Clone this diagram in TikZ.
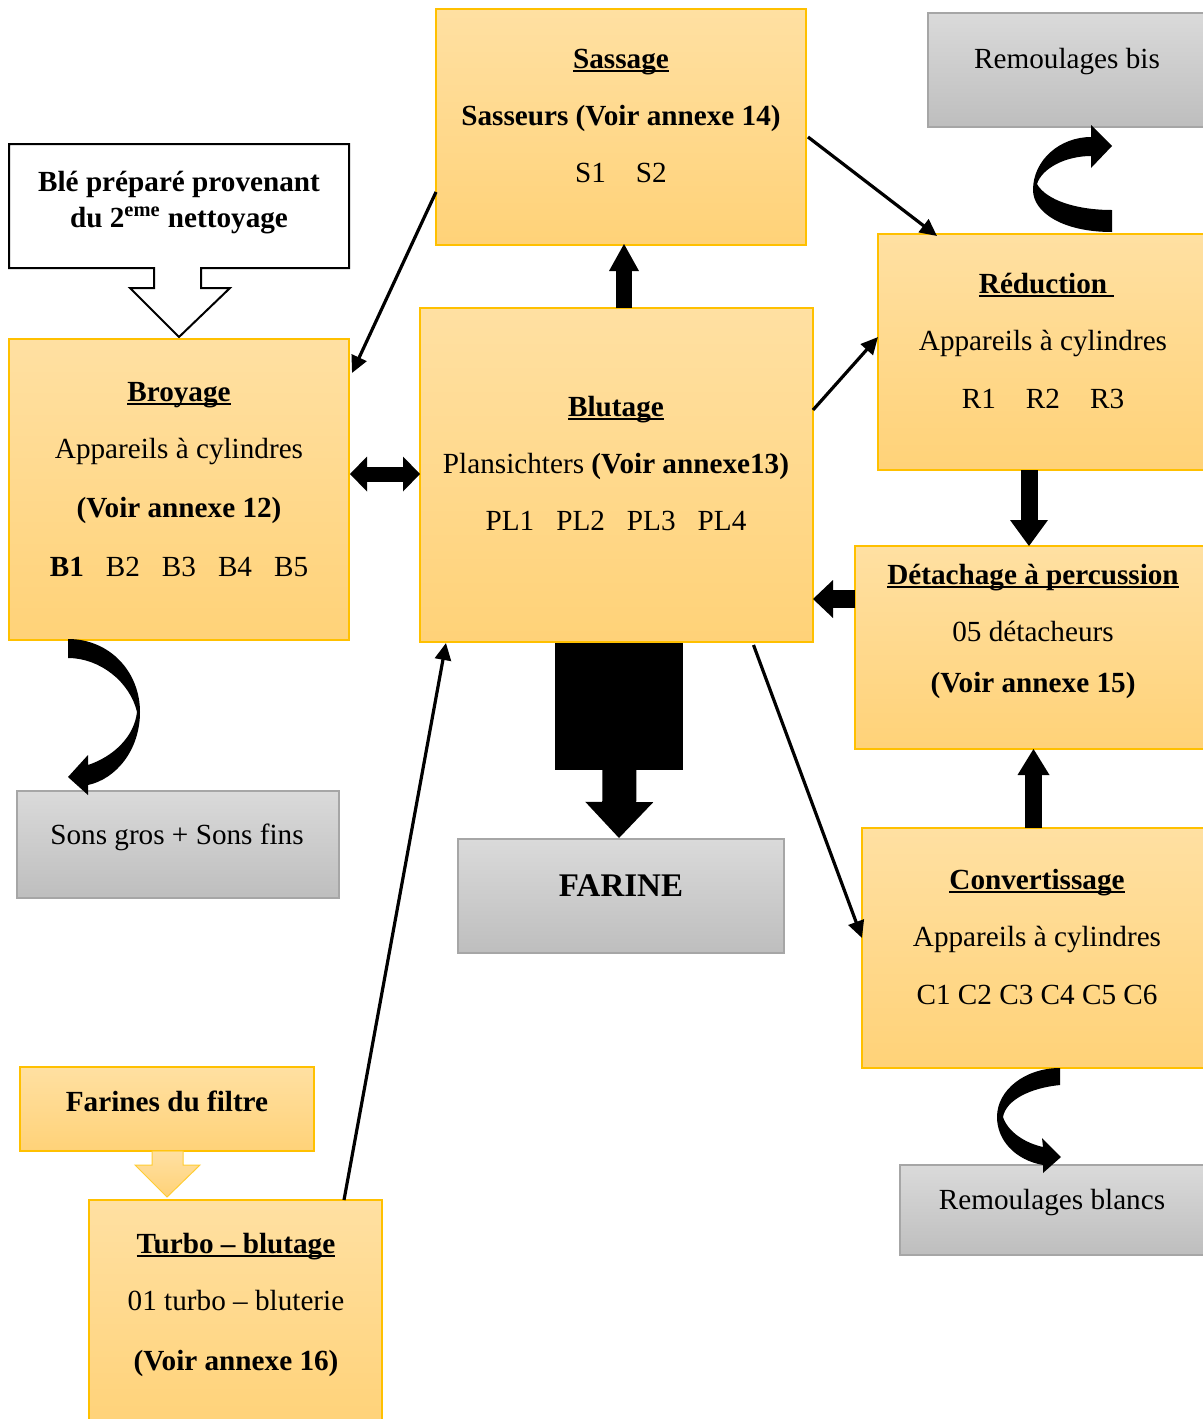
\documentclass[tikz,border=0pt]{standalone}
\usepackage{fontspec}
\setmainfont{Liberation Serif}
\usetikzlibrary{arrows.meta,fit,calc}

\definecolor{obTop}{RGB}{255,224,162}
\definecolor{obBot}{RGB}{255,210,120}
\definecolor{obLine}{RGB}{255,192,0}
\definecolor{gbTop}{RGB}{218,218,218}
\definecolor{gbBot}{RGB}{190,190,190}
\definecolor{gbLine}{RGB}{166,166,166}

% underline that runs through the descenders, as in a word processor
\newlength\ulwidth
\newcommand\ulword[1]{\settowidth\ulwidth{#1}\rlap{\rule[-0.15em]{\ulwidth}{0.075em}}#1}

\begin{document}
\begin{tikzpicture}[x=0.5pt,y=-0.5pt,
  obox/.style={draw=obLine, line width=0.8pt, top color=obTop, bottom color=obBot, inner sep=0pt, outer sep=0pt},
  gbox/.style={draw=gbLine, line width=0.8pt, top color=gbTop, bottom color=gbBot, inner sep=0pt, outer sep=0pt},
  lbl/.style={anchor=base, inner sep=0pt, outer sep=0pt, font=\fontsize{14.6pt}{17pt}\selectfont},
  link/.style={line width=1.6pt, -{Triangle[length=8.5pt,width=8pt]}},
  blockarr/.style n args={3}{line width=#1, -{Triangle[width=#2,length=#3,line width=0pt]}},
  dblarr/.style n args={3}{line width=#1, {Triangle[width=#2,length=#3,line width=0pt]}-{Triangle[width=#2,length=#3,line width=0pt]}},
]
\useasboundingbox (0,0) rectangle (1203,1419);
\fill[white] (0,0) rectangle (1203,1419);

% ---- incoming wheat callout ----
\draw[line width=1pt, fill=white, line join=miter]
  (9,144) -- (349,144) -- (349,268) -- (201,268) -- (201,288) -- (230,288)
  -- (179,337) -- (130,288) -- (154,288) -- (154,268) -- (9,268) -- cycle;
\node[lbl] (ble1) at (179,191) {\textbf{Blé préparé provenant}};
\node[lbl] (ble2) at (179,227) {\textbf{du 2\textsuperscript{eme} nettoyage}};

% ---- process boxes ----
\node[obox, fit={(436,9)(806,245)}] (sassage) {};
\node[obox, fit={(9,339)(349,640)}] (broyage) {};
\node[obox, fit={(420,308)(813,642)}] (blutage) {};
\node[obox, fit={(878,234)(1215,470)}] (reduction) {};
\node[obox, fit={(855,546)(1215,749)}] (detach) {};
\node[obox, fit={(862,828)(1215,1068)}] (convert) {};
\node[obox, fit={(20,1067)(314,1151)}] (filtre) {};

% flour from the filter feeds the turbo-sifter
\draw[draw=obLine!80, line width=0.5pt, top color=obTop, bottom color=obBot]
  (152,1151) -- (183,1151) -- (183,1165) -- (200,1165) -- (167,1197)
  -- (135,1165) -- (152,1165) -- cycle;
\node[obox, fit={(89,1200)(382,1430)}] (turbo) {};

% ---- product boxes ----
\node[gbox, fit={(928,13)(1215,127)}] (rembis) {};
\node[gbox, fit={(17,791)(339,898)}] (sons) {};
\node[gbox, fit={(458,839)(784,953)}] (farine) {};
\node[gbox, fit={(900,1165)(1215,1255)}] (remblancs) {};

% ---- labels ----
\node[lbl] (sas1) at (621,68) {\textbf{\ulword{Sassage}}};
\node[lbl] (sas2) at (621,125) {\textbf{Sasseurs (Voir annexe 14)}};
\node[lbl] (sas3) at (621,182) {S1\hspace{15pt}S2};

\node[lbl] (bro1) at (179,401) {\textbf{\ulword{Broyage}}};
\node[lbl] (bro2) at (179,458) {Appareils à cylindres};
\node[lbl] (bro3) at (179,517) {\textbf{(Voir annexe 12)}};
\node[lbl] (bro4) at (179,576) {\textbf{B1}\hspace{11pt}B2\hspace{11pt}B3\hspace{11pt}B4\hspace{11pt}B5};

\node[lbl] (blu1) at (616,416) {\textbf{\ulword{Blutage}}};
\node[lbl] (blu2) at (616,473) {Plansichters \textbf{(Voir annexe13)}};
\node[lbl] (blu3) at (616,530) {PL1\hspace{11pt}PL2\hspace{11pt}PL3\hspace{11pt}PL4};

\node[lbl] (red1) at (1043,293) {\textbf{\ulword{Réduction~}}};
\node[lbl] (red2) at (1043,350) {Appareils à cylindres};
\node[lbl] (red3) at (1043,408) {R1\hspace{15pt}R2\hspace{15pt}R3};

\node[lbl] (det1) at (1033,584) {\textbf{\ulword{Détachage à percussion}}};
\node[lbl] (det2) at (1033,641) {05 détacheurs};
\node[lbl] (det3) at (1033,692) {\textbf{(Voir annexe 15)}};

\node[lbl] (con1) at (1037,889) {\textbf{\ulword{Convertissage}}};
\node[lbl] (con2) at (1037,946) {Appareils à cylindres};
\node[lbl] (con3) at (1037,1004) {C1 C2 C3 C4 C5 C6};

\node[lbl] (tur1) at (236,1253) {\textbf{\ulword{Turbo – blutage}}};
\node[lbl] (tur2) at (236,1310) {01 turbo – bluterie};
\node[lbl] (tur3) at (236,1370) {\textbf{(Voir annexe 16)}};

\node[lbl] (fil1) at (167,1111) {\textbf{Farines du filtre}};

\node[lbl] (rb1) at (1067,68) {Remoulages bis};
\node[lbl] (sg1) at (177,844) {Sons gros + Sons fins};
\node[lbl, font=\fontsize{16.5pt}{19pt}\selectfont] (fa1) at (621,896) {\textbf{FARINE}};
\node[lbl] (rw1) at (1052,1209) {Remoulages blancs};

% ---- thin flow arrows ----
\draw[link] ($(sassage.west)+(0,65)$) -- ($(broyage.north east)+(3,34)$);
\draw[link] ($(sassage.east)+(2,10)$) -- ($(reduction.north west)+(59,2)$);
\draw[link] ($(blutage.east)+(0,-65)$) -- ($(reduction.west)+(0,-15)$);
\draw[link] ($(blutage.south)+(137,3)$) -- ($(convert.west)+(0,-10)$);
\draw[link] ($(turbo.north)+(108.5,0)$) -- ($(blutage.south west)+(26,1)$);

% ---- block arrows ----
\draw[blockarr={8pt}{15pt}{13.5pt}] ($(blutage.north)+(7.5,0)$) -- ($(sassage.south)+(3,-1)$);
\draw[dblarr={7.5pt}{17.5pt}{8.5pt}] ($(broyage.east)+(1,-15.5)$) -- ($(blutage.east |- broyage.east)+(-393,-15.5)$);
\draw[blockarr={8.5pt}{19pt}{13pt}] ($(reduction.south)+(-17.5,0)$) -- ($(reduction.south |- detach.north)+(-17.5,0)$);
\draw[blockarr={9pt}{19pt}{10pt}] ($(detach.west)+(0,-48.5)$) -- ($(blutage.east |- detach.west)+(0,-48.5)$);
\draw[blockarr={8.5pt}{16pt}{13pt}] ($(convert.north)+(-5,0)$) -- ($(convert.north |- detach.south)+(-5,0)$);

% wide discharge of flour
\fill ($(blutage.south)+(-61.5,1)$) rectangle ($(blutage.south)+(66.5,128)$);
\draw[blockarr={17pt}{34pt}{18pt}] ($(blutage.south)+(3,120)$) -- ($(farine.north)+(-2,-1)$);

% ---- curved by-product arrows ----
% reduction -> remoulages bis
\fill (1112,232) .. controls (1062,232) and (1033,212) .. (1033,190)
  .. controls (1033,160) and (1060,137) .. (1091,137) -- (1091,125) -- (1112,146)
  -- (1091,168) -- (1091,156) .. controls (1066,156) and (1042,168) .. (1037,184)
  .. controls (1046,200) and (1076,210) .. (1112,210) -- cycle;
% broyage -> sons
\fill (68,639) .. controls (110,639) and (140,672) .. (140,712)
  .. controls (140,750) and (116,779) .. (88,785) -- (88,795) -- (68,777)
  -- (88,755) -- (88,765) .. controls (112,757) and (134,738) .. (137,712)
  .. controls (130,682) and (100,658) .. (68,658) -- cycle;
% convertissage -> remoulages blancs
\fill (1060,1068) -- (1060,1085) .. controls (1030,1088) and (1006,1100) .. (1003,1117)
  .. controls (1008,1132) and (1025,1143) .. (1043,1147) -- (1042,1138) -- (1061,1157)
  -- (1043,1173) -- (1043,1165) .. controls (1015,1160) and (997,1140) .. (997,1117)
  .. controls (997,1090) and (1025,1068) .. (1060,1068);
\end{tikzpicture}
\end{document}
